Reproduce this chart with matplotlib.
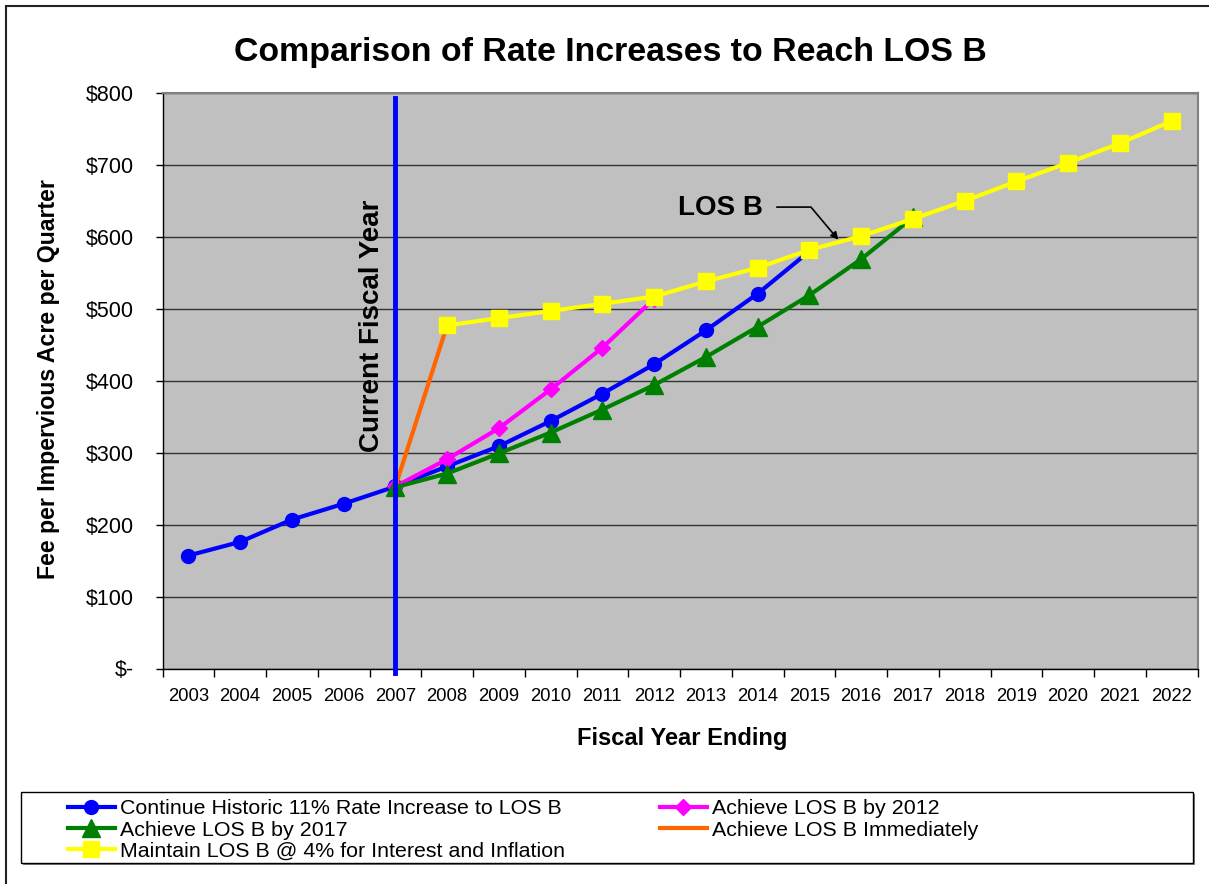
import numpy as np
import matplotlib.pyplot as plt
from matplotlib.patches import Rectangle

plt.rcParams['font.family'] = ['Liberation Sans', 'DejaVu Sans']

# data
years = list(range(2003, 2023))
current_year = 2007

historic_years = list(range(2003, 2016))
historic = [157, 176, 207, 229, 253, 281, 309, 344, 382, 423, 470, 521, 580]

by2012_years = list(range(2007, 2013))
by2012 = [253, 291, 334, 388, 446, 514]

by2017_years = list(range(2007, 2018))
by2017 = [252, 271, 299, 328, 360, 394, 433, 475, 519, 569, 627]

immediate_years = [2007, 2008]
immediate = [253, 477]

maintain_years = list(range(2008, 2023))
maintain = [477, 487, 497, 507, 517, 538, 557, 582, 601, 625, 650, 677, 703, 730, 761]

y_ticks = [0, 100, 200, 300, 400, 500, 600, 700, 800]
y_labels = ['\\$-', '\\$100', '\\$200', '\\$300', '\\$400', '\\$500', '\\$600', '\\$700', '\\$800']

W, H = 1209, 884
fig = plt.figure(figsize=(W / 100, H / 100), dpi=100)
ax = fig.add_axes([162.5 / W, 1 - 668.5 / H, 1035 / W, 575.5 / H])
ax.set_facecolor('#C0C0C0')


def idx(yrs):
    return [years.index(y) for y in yrs]


l_hist, = ax.plot(idx(historic_years), historic, color='#0000FF', lw=3, marker='o', ms=10, zorder=3)
l_2012, = ax.plot(idx(by2012_years), by2012, color='#FF00FF', lw=3, marker='D', ms=8.2, zorder=3)
l_2017, = ax.plot(idx(by2017_years), by2017, color='#008000', lw=3, marker='^', ms=12.5, zorder=3)
l_imm, = ax.plot(idx(immediate_years), immediate, color='#FF6600', lw=3, zorder=3)
l_main, = ax.plot(idx(maintain_years), maintain, color='#FFFF00', lw=3, marker='s', ms=11.3, zorder=3)

# current fiscal year marker line
ax.axvline(years.index(current_year), ymin=-0.008, ymax=0.992, color='#0000FF', lw=3.5,
           zorder=10, clip_on=False)
ax.text(years.index(current_year) - 0.45, 477, 'Current Fiscal Year', rotation=90,
        ha='center', va='center', fontsize=20, fontweight='bold', zorder=11)

ax.text(10.28, 640, 'LOS B', ha='center', va='center', fontsize=20, fontweight='bold')
ax.annotate('', xy=(12.56, 596), xytext=(11.37, 641.4),
            arrowprops=dict(arrowstyle='-|>', color='black', lw=1.2, mutation_scale=11,
                            connectionstyle='angle,angleA=0,angleB=130,rad=0',
                            shrinkA=0, shrinkB=0))

ax.set_xlim(-0.5, len(years) - 0.5)
ax.set_ylim(0, 800)
ax.set_yticks(y_ticks)
ax.set_yticklabels(y_labels, fontsize=15.5)
ax.set_xticks(range(len(years)))
ax.set_xticklabels([str(y) for y in years], fontsize=13.3)
ax.set_xticks(np.arange(-0.5, len(years)), minor=True)
ax.tick_params(axis='x', which='major', length=0, pad=14)
ax.tick_params(axis='x', which='minor', length=6, width=1, direction='out')
ax.tick_params(axis='y', length=5, width=1, direction='out', pad=15.5)
ax.yaxis.grid(True, color='#333333', lw=1)
ax.set_axisbelow(True)
for s in ['top', 'right']:
    ax.spines[s].set_color('#808080')
    ax.spines[s].set_linewidth(1.5)
for s in ['left', 'bottom']:
    ax.spines[s].set_color('black')
    ax.spines[s].set_linewidth(1)

fig.text(610 / W, 1 - 53 / H, 'Comparison of Rate Increases to Reach LOS B',
         ha='center', va='center', fontsize=24.4, fontweight='bold')
fig.text(682 / W, 1 - 738 / H, 'Fiscal Year Ending', ha='center', va='center',
         fontsize=17, fontweight='bold')
fig.text(49 / W, 1 - 379 / H, 'Fee per Impervious Acre per Quarter', rotation=90,
         ha='center', va='center', fontsize=16.7, fontweight='bold')

# outer chart frame
fig.add_artist(Rectangle((6 / W, -0.1), 1.2, 1.1 - 6 / H, transform=fig.transFigure,
                         fill=False, edgecolor='#222222', lw=1.5))

# legend box with shadow
lx0, lx1, ly0, ly1 = 21, 1193, 792.3, 862.5
fig.add_artist(Rectangle(((lx0 + 2) / W, 1 - (ly1 + 2) / H), (lx1 - lx0) / W, (ly1 - ly0) / H,
                         transform=fig.transFigure, facecolor='#808080', edgecolor='none'))
fig.add_artist(Rectangle((lx0 / W, 1 - ly1 / H), (lx1 - lx0) / W, (ly1 - ly0) / H,
                         transform=fig.transFigure, facecolor='white', edgecolor='black', lw=1))

handles = [l_hist, l_2017, l_main, l_2012, l_imm]
labels = ['Continue Historic 11% Rate Increase to LOS B', 'Achieve LOS B by 2017',
          'Maintain LOS B @ 4% for Interest and Inflation', 'Achieve LOS B by 2012',
          'Achieve LOS B Immediately']
fig.legend(handles, labels, ncol=2, loc='upper left', bbox_to_anchor=(67.7 / W, 1 - 799.5 / H),
           frameon=False, fontsize=15.4, handlelength=2.2, handletextpad=0.23,
           columnspacing=4.45, labelspacing=0.1, borderpad=0, borderaxespad=0)

fig.savefig('out.png', dpi=100)
